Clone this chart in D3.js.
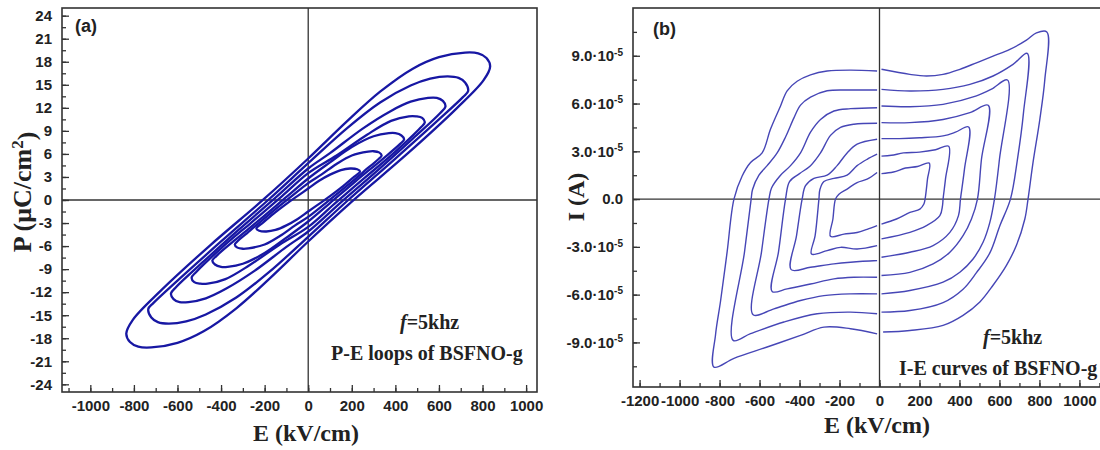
<!DOCTYPE html>
<html>
<head>
<meta charset="utf-8">
<script src="https://cdn.jsdelivr.net/npm/d3@7"></script>
<style>
body { margin: 0; background: #fff; }
svg { display: block; background: #fff; }
.tick text { font-family: "Liberation Sans", Arial, sans-serif; font-weight: bold; font-size: 15px; fill: #222; }
.tick line { stroke: #333; stroke-width: 1.3; }
.title { font-family: "Liberation Serif", "Times New Roman", serif; font-weight: bold; fill: #222; }
</style>
</head>
<body>
<svg id="chart"></svg>
<script>
// ---- panel (a): P-E loops, [E kV/cm, P uC/cm2], upper branch then lower branch
var peLoop1 = [[238,3.7],[225,4.0],[192,4.1],[150,3.9],[100,3.3],[50,2.5],[0,1.5],[-50,0.5],[-100,-0.5],[-160,-1.8],[-210,-3.0],
  [-238,-3.7],[-225,-4.0],[-192,-4.1],[-150,-3.9],[-100,-3.3],[-50,-2.5],[0,-1.5],[50,-0.5],[100,0.5],[160,1.8],[210,3.0]];
var peLoop2 = [[337,5.8],[325,6.2],[300,6.35],[275,6.3],[200,5.8],[130,4.7],[60,3.3],[0,2.2],[-80,0.4],[-180,-1.9],[-280,-4.3],[-322,-5.3],
  [-337,-5.8],[-325,-6.2],[-300,-6.35],[-275,-6.3],[-200,-5.8],[-130,-4.7],[-60,-3.3],[0,-2.2],[80,-0.4],[180,1.9],[280,4.3],[322,5.3]];
var peLoop3 = [[440,7.9],[428,8.4],[400,8.7],[370,8.7],[300,8.3],[200,6.9],[100,4.9],[0,2.8],[-100,0.4],[-220,-2.5],[-340,-5.3],[-422,-7.3],
  [-440,-7.9],[-428,-8.4],[-400,-8.7],[-370,-8.7],[-300,-8.3],[-200,-6.9],[-100,-4.9],[0,-2.8],[100,-0.4],[220,2.5],[340,5.3],[422,7.3]];
var peLoop4 = [[535,10.1],[523,10.7],[495,10.9],[462,10.9],[380,10.3],[270,8.5],[130,5.8],[0,3.5],[-120,0.5],[-260,-2.9],[-400,-6.3],[-515,-9.4],
  [-535,-10.1],[-523,-10.7],[-495,-10.9],[-462,-10.9],[-380,-10.3],[-270,-8.5],[-130,-5.8],[0,-3.5],[120,-0.5],[260,2.9],[400,6.3],[515,9.4]];
var peLoop5 = [[630,12.2],[618,12.9],[590,13.3],[550,13.3],[470,12.8],[380,11.6],[250,9.3],[100,6.1],[0,4.1],[-150,0.3],[-320,-3.9],[-480,-8.0],[-605,-11.3],
  [-630,-12.2],[-618,-12.9],[-590,-13.3],[-550,-13.3],[-470,-12.8],[-380,-11.6],[-250,-9.3],[-100,-6.1],[0,-4.1],[150,-0.3],[320,3.9],[480,8.0],[605,11.3]];
var peLoop6 = [[734,14.2],[720,15.3],[690,15.9],[640,16.1],[560,15.8],[470,14.9],[330,12.7],[180,9.4],[0,4.8],[-180,0.1],[-400,-5.4],[-600,-10.5],[-710,-13.4],
  [-734,-14.2],[-720,-15.3],[-690,-15.9],[-640,-16.1],[-560,-15.8],[-470,-14.9],[-330,-12.7],[-180,-9.4],[0,-4.8],[180,-0.1],[400,5.4],[600,10.5],[710,13.4]];
var peLoop7 = [[835,17.4],[818,18.5],[780,19.1],[720,19.2],[600,18.6],[480,17.1],[330,14.1],[180,10.3],[0,5.4],[-200,0.2],[-450,-5.9],[-680,-11.9],[-805,-15.6],
  [-835,-17.4],[-818,-18.5],[-780,-19.1],[-720,-19.2],[-600,-18.6],[-480,-17.1],[-330,-14.1],[-180,-10.3],[0,-5.4],[200,-0.2],[450,5.9],[680,11.9],[805,15.6]];
var peLoops = [peLoop1, peLoop2, peLoop3, peLoop4, peLoop5, peLoop6, peLoop7];

// ---- panel (b): I-E curves, [E kV/cm, I in 1e-5 A], left half and right half of each loop
var ieLeft1 = [[-12,1.67],[-62,1.25],[-112,1.04],[-162,0.63],[-203,0.31],[-220,0],[-233,-1.25],[-245,-2.34],[-178,-2.2],[-112,-2.1],[-62,-1.9],[-12,-1.67]];
var ieLeft2 = [[-12,2.82],[-62,2.5],[-112,2.1],[-162,1.5],[-228,1.3],[-278,1.1],[-298,0.6],[-303,0],[-322,-2.3],[-340,-3.45],[-262,-3.24],[-195,-3.03],[-112,-3.13],[-12,-2.92]];
var ieLeft3 = [[-12,3.76],[-112,3.45],[-162,2.9],[-212,2.1],[-262,1.5],[-328,1.3],[-370,0.84],[-387,0],[-415,-2.3],[-442,-4.43],[-345,-4.28],[-228,-4.07],[-145,-3.97],[-12,-3.86]];
var ieLeft4 = [[-12,4.76],[-128,4.7],[-195,4.5],[-245,4.0],[-295,2.9],[-345,2.1],[-400,1.6],[-450,1.1],[-470,0],[-505,-3.3],[-537,-5.8],[-462,-5.64],[-345,-5.33],[-228,-5.01],[-128,-4.91],[-12,-4.91]];
var ieLeft5 = [[-12,5.74],[-145,5.68],[-228,5.53],[-295,5.0],[-345,4.2],[-395,2.9],[-445,2.1],[-495,1.5],[-540,0.7],[-553,0],[-590,-3.3],[-632,-7.26],[-528,-6.89],[-395,-6.37],[-278,-6.06],[-145,-5.95],[-12,-5.95]];
var ieLeft6 = [[-12,6.85],[-145,6.85],[-262,6.8],[-345,6.4],[-395,5.9],[-428,5.1],[-470,3.9],[-512,2.9],[-562,2.1],[-603,1.5],[-635,0.6],[-642,0],[-675,-3.3],[-732,-8.87],[-645,-8.45],[-478,-7.72],[-312,-7.2],[-145,-7.1],[-12,-7.2]];
var ieLeft7 = [[-12,8.04],[-145,8.1],[-262,8.04],[-345,7.8],[-412,7.4],[-462,6.8],[-495,5.85],[-545,4.4],[-587,2.9],[-645,2.3],[-687,1.45],[-728,0],[-762,-3.3],[-795,-6.4],[-820,-8.5],[-828,-10.55],[-728,-10.0],[-562,-9.29],[-395,-8.56],[-278,-8.04],[-145,-8.14],[-12,-8.46]];

var ieRight1 = [[10,-1.57],[85,-1.25],[152,-0.84],[202,-0.63],[222,-0.31],[228,0],[240,1.25],[249,2.26],[190,2.05],[130,1.95],[70,1.7],[10,1.6]];
var ieRight2 = [[10,-2.5],[152,-2.09],[235,-1.67],[302,-1.04],[315,-0.42],[318,0],[330,1.25],[346,3.32],[280,3.1],[200,2.95],[120,2.9],[60,2.75],[10,2.7]];
var ieRight3 = [[10,-3.65],[152,-3.34],[268,-2.92],[352,-2.09],[395,-1.04],[405,0],[425,1.88],[446,4.53],[380,4.2],[318,3.97],[200,3.85],[100,3.8],[10,3.8]];
var ieRight4 = [[10,-4.8],[152,-4.6],[268,-4.07],[352,-3.34],[418,-2.3],[460,-1.25],[490,0],[510,2.5],[544,5.89],[452,5.43],[318,5.0],[152,4.8],[10,4.8]];
var ieRight5 = [[10,-5.95],[152,-5.74],[318,-5.22],[402,-4.59],[468,-3.76],[518,-2.71],[552,-1.46],[575,0],[600,2.5],[640,7.48],[560,6.9],[485,6.48],[318,5.95],[152,5.8],[10,5.85]];
var ieRight6 = [[10,-7.1],[152,-7.0],[318,-6.5],[418,-5.66],[485,-4.62],[552,-3.38],[602,-1.67],[655,0],[690,2.5],[720,5.4],[739,9.15],[668,8.46],[568,7.73],[452,7.2],[318,6.89],[152,6.79],[10,6.89]];
var ieRight7 = [[18,-8.35],[152,-8.25],[318,-7.93],[418,-7.3],[502,-6.46],[568,-5.41],[635,-4.16],[685,-2.9],[727,-1.25],[743,0],[768,2.3],[802,5.01],[827,7.52],[837,10.5],[785,10.44],[735,9.98],[652,9.4],[568,8.98],[485,8.56],[402,8.15],[318,7.83],[235,7.73],[152,7.83],[10,8.15]];
var ieHalves = [ieLeft1, ieLeft2, ieLeft3, ieLeft4, ieLeft5, ieLeft6, ieLeft7,
                ieRight1, ieRight2, ieRight3, ieRight4, ieRight5, ieRight6, ieRight7];

// ---- tick labels
var peXTicks = [-1000,-800,-600,-400,-200,0,200,400,600,800,1000];
var peYTicks = [-24,-21,-18,-15,-12,-9,-6,-3,0,3,6,9,12,15,18,21,24];
var ieXTicks = [-1200,-1000,-800,-600,-400,-200,0,200,400,600,800,1000];
var ieYTicks = [-9,-6,-3,0,3,6,9];

var svg = d3.select("#chart").attr("width", 1100).attr("height", 450);

var xA = d3.scaleLinear().domain([-1130, 1050]).range([62, 537]);
var yA = d3.scaleLinear().domain([-25, 25]).range([392, 8]);
var xB = d3.scaleLinear().domain([-1233, 1233]).range([633, 1126]);
var yB = d3.scaleLinear().domain([-11.8, 12.0]).range([387, 8]);

var drawFrame = function(x, y, xMajor, xMinor, yMajor, yMinor, yFormat)
{
    var g = svg.append("g");
    var x0 = x.range()[0], x1 = x.range()[1], yb = y.range()[0], yt = y.range()[1];

    // zero lines
    g.append("line").attr("x1", x(0)).attr("x2", x(0)).attr("y1", yt).attr("y2", yb)
        .attr("stroke", "#333").attr("stroke-width", 1.3);
    g.append("line").attr("x1", x0).attr("x2", x1).attr("y1", y(0)).attr("y2", y(0))
        .attr("stroke", "#333").attr("stroke-width", 1.3);

    g.append("g").attr("transform", "translate(0," + yb + ")")
        .call(d3.axisBottom(x).tickValues(xMinor).tickSize(-4).tickFormat(""));
    g.append("g").attr("transform", "translate(0," + yb + ")")
        .call(d3.axisBottom(x).tickValues(xMajor).tickSize(-7).tickPadding(8)
            .tickFormat(function(d) { return String(d); }));
    g.append("g").attr("transform", "translate(" + x0 + ",0)")
        .call(d3.axisLeft(y).tickValues(yMinor).tickSize(-4).tickFormat(""));
    var ya = g.append("g").attr("transform", "translate(" + x0 + ",0)")
        .call(d3.axisLeft(y).tickValues(yMajor).tickSize(-7).tickPadding(10).tickFormat(yFormat));
    g.selectAll(".domain").remove();

    g.append("rect").attr("x", x0).attr("y", yt).attr("width", x1 - x0).attr("height", yb - yt)
        .attr("fill", "none").attr("stroke", "#333").attr("stroke-width", 1.6);
    return ya;
}

drawFrame(xA, yA, peXTicks, d3.range(-1100, 1001, 100), peYTicks, d3.range(-24, 24.1, 1.5),
    function(d) { return String(d); });

var yAxisB = drawFrame(xB, yB, ieXTicks, d3.range(-1200, 1201, 100), ieYTicks, d3.range(-10.5, 10.6, 1.5),
    function(d) { return String(d); });

// scientific labels on the I axis
yAxisB.selectAll(".tick text").each(function(d) {
    var t = d3.select(this);
    if (d === 0) { t.text("0.0"); return; }
    t.text(null);
    t.append("tspan").text(d.toFixed(1) + "\u00b710");
    t.append("tspan").attr("dy", "-0.55em").attr("font-size", "10px").text("-5");
});

// curves
var lineA = d3.line().x(function(d) { return xA(d[0]); }).y(function(d) { return yA(d[1]); })
    .curve(d3.curveCatmullRomClosed.alpha(0.5));
svg.append("g").selectAll("path").data(peLoops).enter().append("path")
    .attr("d", lineA).attr("fill", "none").attr("stroke", "#1717a3").attr("stroke-width", 2.3);

var lineB = d3.line().x(function(d) { return xB(d[0]); }).y(function(d) { return yB(d[1]); })
    .curve(d3.curveCatmullRom.alpha(0.5));
svg.append("g").selectAll("path").data(ieHalves).enter().append("path")
    .attr("d", lineB).attr("fill", "none").attr("stroke", "#4646b6").attr("stroke-width", 1.4);

// labels
var addText = function(x, y, size, str, cls, anchor)
{
    return svg.append("text").attr("x", x).attr("y", y).attr("class", cls)
        .attr("font-size", size).attr("text-anchor", anchor || "start").text(str);
}

addText(75, 32, 18, "(a)", "title").style("font-family", "'Liberation Sans', Arial, sans-serif");
addText(653, 35, 18, "(b)", "title").style("font-family", "'Liberation Sans', Arial, sans-serif");

var f1 = addText(400, 329, 20, "", "title");
f1.append("tspan").attr("font-style", "italic").text("f");
f1.append("tspan").text("=5khz");
addText(331, 360, 20, "P-E loops of BSFNO-g", "title");

var f2 = addText(983, 344, 20, "", "title");
f2.append("tspan").attr("font-style", "italic").text("f");
f2.append("tspan").text("=5khz");
addText(899, 375, 20, "I-E curves of BSFNO-g", "title");

addText(306, 441, 24, "E (kV/cm)", "title", "middle");
addText(877, 433, 24, "E (kV/cm)", "title", "middle");

var pt = svg.append("text").attr("class", "title").attr("font-size", 26).attr("text-anchor", "middle")
    .attr("transform", "translate(31,192) rotate(-90)");
pt.append("tspan").text("P (\u03bcC/cm");
pt.append("tspan").attr("dy", "-0.45em").attr("font-size", 17).text("2");
pt.append("tspan").attr("dy", "0.45em").text(")");

svg.append("text").attr("class", "title").attr("font-size", 24).attr("text-anchor", "middle")
    .attr("transform", "translate(584,197) rotate(-90)").text("I (A)");
</script>
</body>
</html>
